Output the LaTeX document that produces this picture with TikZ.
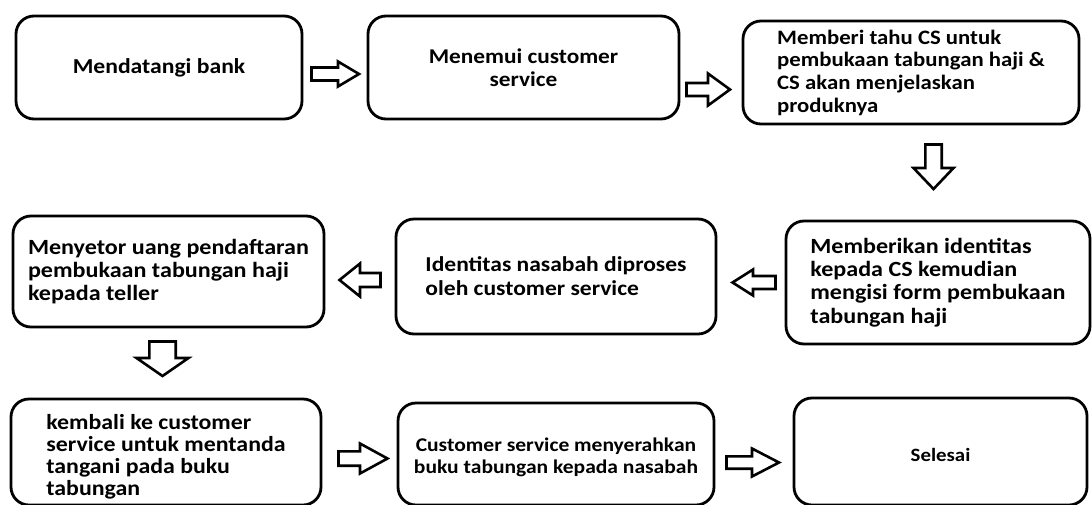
\documentclass[tikz,border=0pt]{standalone}
\usepackage{fontspec}
\setmainfont{Carlito}[FakeStretch=1.11]
\newcommand\harrow[6]{% tail x, tip x, centre y, shaft half, head half, head base x
  \draw[barrow] (#1,#3-#4) -- (#6,#3-#4) -- (#6,#3-#5) -- (#2,#3) -- (#6,#3+#5) -- (#6,#3+#4) -- (#1,#3+#4) -- cycle;}
\newcommand\varrow[6]{% tail y, tip y, centre x, shaft half, head half, head base y
  \draw[barrow] (#3-#4,#1) -- (#3-#4,#6) -- (#3-#5,#6) -- (#3,#2) -- (#3+#5,#6) -- (#3+#4,#6) -- (#3+#4,#1) -- cycle;}
\newcommand\lowered[3]{\raisebox{-#1}[\height][\depth]{\begin{tabular}{@{}#2@{}}#3\end{tabular}}}
\begin{document}
\begin{tikzpicture}[x=1pt,y=-1pt,
  box/.style={draw, line width=2.8pt, rounded corners=18pt, inner sep=0pt, align=left},
  fs/.style 2 args={font=\bfseries\fontsize{#1}{#2}\selectfont},
  barrow/.style={draw, line width=2.6pt, fill=white, line join=miter}]
\useasboundingbox[fill=white] (0,0) rectangle (1092,504);
% row 1
\node[box, fs={21.3}{23}, align=center, minimum width=286, minimum height=103] (b1) at (159,67.5) {Mendatangi bank};
\node[box, fs={21}{23}, align=center, minimum width=311, minimum height=103] (b2) at (523.5,67.5) {Menemui customer\\service};
\node[box, fs={20.5}{22.7}, minimum width=336, minimum height=103] (b3) at (911,72.5) {Memberi tahu CS untuk\\pembukaan tabungan haji \&\\CS akan menjelaskan\\produknya};
% row 2
\node[box, fs={21.7}{23.4}, minimum width=311, minimum height=111] (b4) at (168.5,271.5) {Menyetor uang pendaftaran\\pembukaan tabungan haji\\kepada teller};
\node[box, fs={21.2}{24}, minimum width=320, minimum height=115] (b5) at (556,276.5) {Identitas nasabah diproses\\oleh customer service};
\node[box, fs={21.7}{23.3}, minimum width=304, minimum height=123] (b6) at (938,282.5) {Memberikan identitas\\kepada CS kemudian\\mengisi form pembukaan\\tabungan haji};
% row 3
\node[box, fs={21.5}{22.3}, minimum width=310, minimum height=106] (b7) at (166,452) {\lowered{6pt}{l}{kembali ke customer\\service untuk mentanda\\tangani pada buku\\tabungan}};
\node[box, fs={19.4}{22}, minimum width=316, minimum height=102] (b8) at (556,454) {\lowered{4pt}{c}{Customer service menyerahkan\\buku tabungan kepada nasabah}};
\node[box, fs={18.8}{20}, minimum width=293, minimum height=107] (b9) at (940.5,451.5) {\lowered{6pt}{c}{Selesai}};
% block arrows
\harrow{311.5}{359}{74}{6.5}{12.5}{338}
\harrow{686.5}{730}{89.5}{6.5}{16}{708}
\varrow{144.5}{189}{933.5}{8.2}{20}{168}
\harrow{775.5}{732.5}{282.5}{6.5}{13}{753}
\harrow{380.5}{339.5}{280}{7}{16.5}{360}
\varrow{341.5}{376}{162.5}{13.2}{26}{358}
\harrow{338.5}{387.5}{458.5}{7.2}{15}{360}
\harrow{726.5}{779}{462.5}{6.2}{14}{752}
\end{tikzpicture}
\end{document}
